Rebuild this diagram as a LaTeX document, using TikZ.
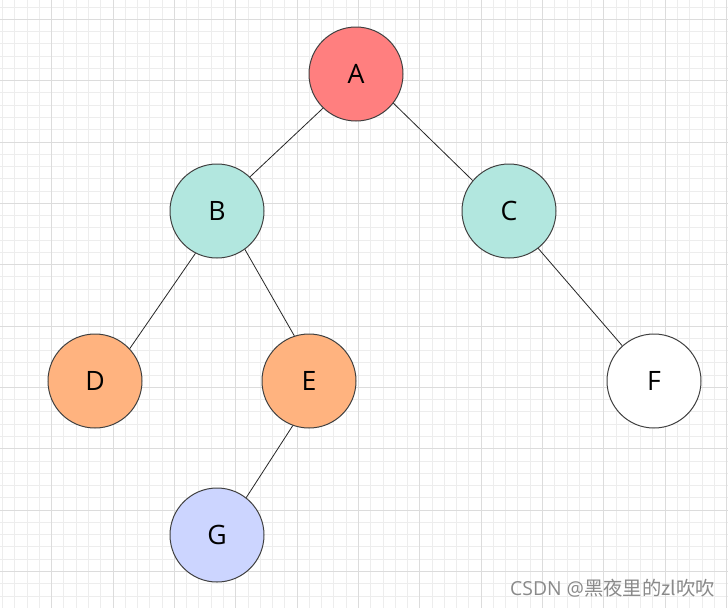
\documentclass[tikz,border=0pt]{standalone}
\usepackage{fontspec}
\setmainfont{Open Sans}
\newfontfamily\cjkfont{Noto Sans CJK SC}
\definecolor{rootred}{HTML}{FF7F7F}
\definecolor{midteal}{HTML}{B2E7DF}
\definecolor{leaforange}{HTML}{FFB37F}
\definecolor{lowblue}{HTML}{CCD5FF}
\definecolor{gridminor}{HTML}{EDEDED}
\definecolor{gridmajor}{HTML}{DCDCDC}
\definecolor{markgray}{HTML}{8A8A8A}

\begin{document}
\begin{tikzpicture}[x=0.75pt,y=-0.75pt,
  vertex/.style={circle, draw=black!75, line width=0.75pt, minimum size=70.5pt,
                 inner sep=0pt, font=\fontsize{20}{20}\selectfont},
  edge/.style={draw=black!85, line width=0.6pt}]
% Canvas
\fill[white] (0,0) rectangle (728,608);
\useasboundingbox (0,0) rectangle (728,608);

% Grid: minor then major lines
\foreach \i in {0,...,59}
  \draw[gridminor, line width=0.7pt] ({2.6+12.27*\i},0) -- ({2.6+12.27*\i},608);
\foreach \j in {0,...,48}
  \draw[gridminor, line width=0.7pt] (0,{7.0+12.27*\j}) -- (728,{7.0+12.27*\j});
\foreach \i in {0,...,11}
  \draw[gridmajor, line width=0.7pt] ({51.7+61.35*\i},0) -- ({51.7+61.35*\i},608);
\foreach \j in {0,...,9}
  \draw[gridmajor, line width=0.7pt] (0,{19.3+61.35*\j}) -- (728,{19.3+61.35*\j});

% Tree nodes
\node[vertex, fill=rootred]    (A) at (356,74)  {A};
\node[vertex, fill=midteal]    (B) at (217,211) {B};
\node[vertex, fill=midteal]    (C) at (509,211) {C};
\node[vertex, fill=leaforange] (D) at (95,381)  {D};
\node[vertex, fill=leaforange] (E) at (309,381) {E};
\node[vertex, fill=white]      (F) at (654,381) {F};
\node[vertex, fill=lowblue]    (G) at (217,535) {G};

% Edges (border to border, as in the sketch)
\draw[edge] (A.-134) -- (B.46);
\draw[edge] (A.-38)  -- (C.140);
\draw[edge] (B.-117) -- (D.43);
\draw[edge] (B.-54)  -- (E.108);
\draw[edge] (C.-52)  -- (F.132);
\draw[edge] (E.-110) -- (G.52);

% Watermark
\node[markgray, anchor=east, inner sep=0pt, font=\fontsize{14.5}{14.5}\selectfont]
  (mark) at (715,588) {CSDN @{\cjkfont 黑夜里的zl吹吹}};
\end{tikzpicture}
\end{document}
